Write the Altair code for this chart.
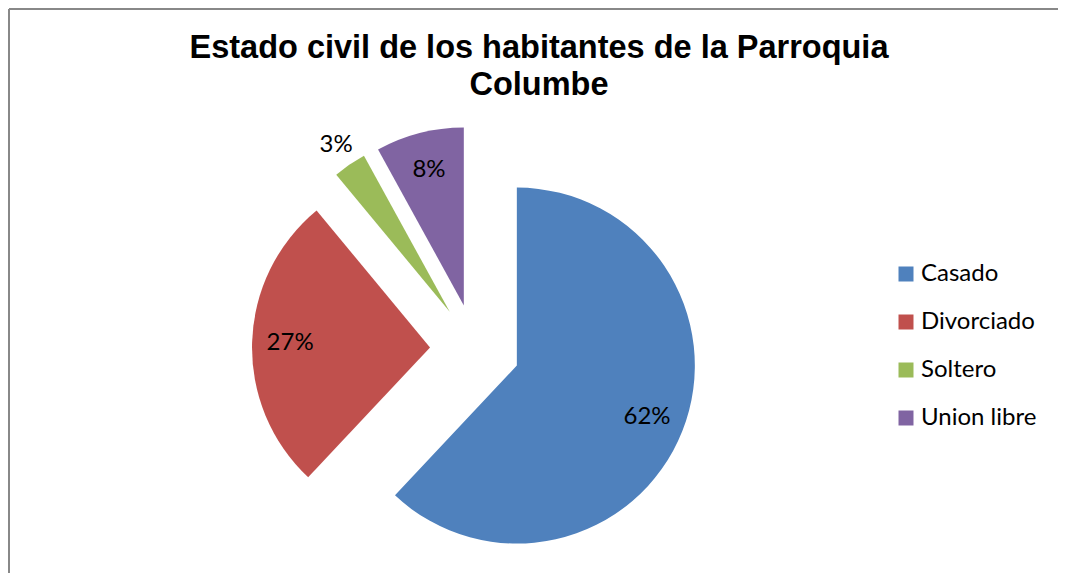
import altair as alt
import pandas as pd

# ---- data ----
categorias = ["Casado", "Divorciado", "Soltero", "Union libre"]
valores = [62, 27, 3, 8]
colores = ["#4F81BD", "#C0504D", "#9BBB59", "#8064A2"]
titulo = ["Estado civil de los  habitantes de la Parroquia", "Columbe"]

# ---- layout constants (pixels, chart coordinates) ----
CX, CY, R, EXPL = 467, 341, 178, 45
LABEL_IN, LABEL_OUT = 140, 202

df = pd.DataFrame({"categoria": categorias, "valor": valores,
                   "orden": list(range(len(categorias)))})
df_title = pd.DataFrame({"linea": titulo, "i": list(range(len(titulo)))})

base = (
    alt.Chart(df)
    .transform_joinaggregate(total="sum(valor)")
    .transform_window(acum="sum(valor)", sort=[alt.SortField("orden")], frame=[None, 0])
    .transform_calculate(t1="2*PI*(datum.acum - datum.valor)/datum.total")
    .transform_calculate(t2="2*PI*datum.acum/datum.total")
    .transform_calculate(mid="(datum.t1 + datum.t2)/2")
    .transform_calculate(pct="format(datum.valor/datum.total, '.0%')")
    .transform_calculate(lr=f"datum.valor/datum.total < 0.05 ? {LABEL_OUT} : {LABEL_IN}")
    .transform_calculate(cx=f"{CX} + {EXPL}*sin(datum.mid)")
    .transform_calculate(cy=f"{CY} - {EXPL}*cos(datum.mid)")
    .transform_calculate(lx="datum.cx + datum.lr*sin(datum.mid)")
    .transform_calculate(ly="datum.cy - datum.lr*cos(datum.mid)")
)

arcs = base.mark_arc(radius=R).encode(
    x=alt.X("cx:Q", scale=None, axis=None),
    y=alt.Y("cy:Q", scale=None, axis=None),
    theta=alt.Theta("t1:Q", scale=None, stack=None),
    theta2="t2:Q",
    color=alt.Color(
        "categoria:N",
        scale=alt.Scale(domain=categorias, range=colores),
        legend=alt.Legend(
            title=None, orient="none", legendX=886, legendY=254,
            symbolType="square", symbolSize=225, symbolStrokeWidth=0,
            labelFont="Lato", labelFontSize=24, labelColor="#000000",
            labelOffset=3, rowPadding=24, padding=0,
        ),
    ),
)

labels = base.mark_text(font="Lato", fontSize=24, color="#000000",
                        align="center", baseline="middle").encode(
    x=alt.X("lx:Q", scale=None, axis=None),
    y=alt.Y("ly:Q", scale=None, axis=None),
    text="pct:N",
)

title = (
    alt.Chart(df_title)
    .transform_calculate(ty="50 + 37*datum.i")
    .mark_text(font="Liberation Sans", fontWeight="bold", fontSize=32.5,
               color="#000000", align="center", baseline="alphabetic")
    .encode(x=alt.value(531), y=alt.Y("ty:Q", scale=None, axis=None), text="linea:N")
)

border_v = alt.Chart(df).mark_rule(color="#888888", strokeWidth=2).encode(
    x=alt.value(1), y=alt.value(1), y2=alt.value(800))
border_h = alt.Chart(df).mark_rule(color="#888888", strokeWidth=2).encode(
    x=alt.value(1), x2=alt.value(1200), y=alt.value(1))

chart = (
    alt.layer(arcs, labels, title, border_v, border_h)
    .properties(width=1050, height=565, padding=0,
                autosize=alt.AutoSizeParams(type="none"))
    .configure_view(stroke="transparent")
)

chart.save("out.html", embed_options={"renderer": "svg", "actions": False})
